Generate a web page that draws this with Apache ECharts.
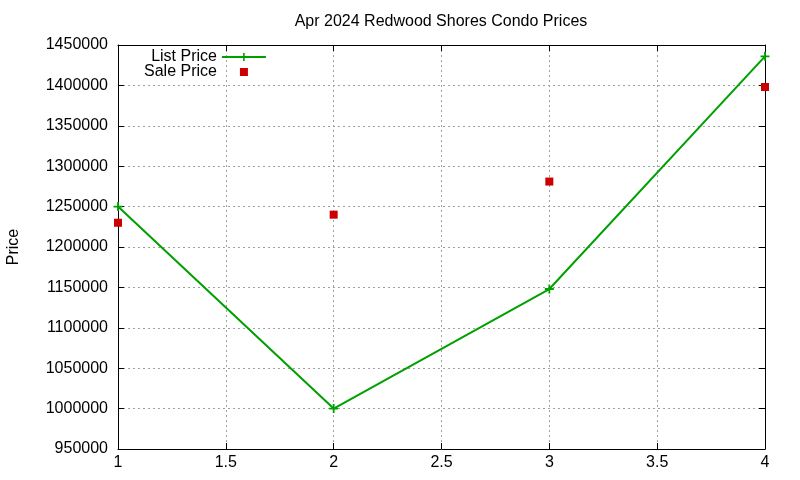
<!DOCTYPE html>
<html>
<head>
<meta charset="utf-8">
<script src="https://cdn.jsdelivr.net/npm/echarts@6/dist/echarts.min.js"></script>
<style>
    html, body { margin: 0; padding: 0; background: #fff; }
    #chart { width: 800px; height: 480px; }
</style>
</head>
<body>
<div id="chart"></div>
<script>
// data
const months = [1, 2, 3, 4];
const listPrice = [1250000, 1000000, 1148000, 1436000];
const salePrice = [1230000, 1240000, 1281000, 1398000];

const FONT = '"Liberation Sans", Arial, sans-serif';
const plusIcon = 'path://M4,0h2v4h4v2h-4v4h-2v-4h-4v-2h4z';

const chart = echarts.init(document.getElementById('chart'));

const tickStyle = { show: true, inside: true, length: 6, lineStyle: { color: '#000' } };
const gridLine = { show: true, lineStyle: { color: '#a0a0a0', type: [2, 3], width: 1 } };

const option = {
    animation: false,
    backgroundColor: '#fff',
    title: {
        text: 'Apr 2024 Redwood Shores Condo Prices',
        left: 436,
        textAlign: 'center',
        top: 9,
        textStyle: { fontFamily: FONT, fontSize: 16, fontWeight: 'normal', color: '#000' }
    },
    legend: {
        orient: 'vertical',
        align: 'right',
        left: 144,
        top: 49,
        padding: 0,
        itemGap: -1,
        itemWidth: 44,
        itemHeight: 10,
        selectedMode: false,
        textStyle: { fontFamily: FONT, fontSize: 16, color: '#000' },
        data: ['List Price', 'Sale Price']
    },
    grid: { left: 118, right: 35, top: 45, bottom: 31, outerBoundsMode: 'none' },
    xAxis: [{
        type: 'value',
        min: 1,
        max: 4,
        interval: 0.5,
        axisLine: { show: true, lineStyle: { color: '#000' } },
        axisTick: tickStyle,
        axisLabel: { fontFamily: FONT, fontSize: 16, color: '#000', margin: 6 },
        splitLine: gridLine
    }, {
        type: 'value',
        position: 'top',
        min: 1,
        max: 4,
        interval: 0.5,
        axisLine: { show: true, lineStyle: { color: '#000' } },
        axisTick: tickStyle,
        axisLabel: { show: false },
        splitLine: { show: false }
    }],
    yAxis: [{
        type: 'value',
        min: 950000,
        max: 1450000,
        interval: 50000,
        name: 'Price',
        nameLocation: 'middle',
        nameGap: 96,
        nameTextStyle: { fontFamily: FONT, fontSize: 16, color: '#000' },
        axisLine: { show: true, lineStyle: { color: '#000' } },
        axisTick: tickStyle,
        axisLabel: {
            fontFamily: FONT, fontSize: 16, color: '#000', margin: 10,
            formatter: v => String(v)
        },
        splitLine: gridLine
    }, {
        type: 'value',
        position: 'right',
        min: 950000,
        max: 1450000,
        interval: 50000,
        axisLine: { show: true, lineStyle: { color: '#000' } },
        axisTick: tickStyle,
        axisLabel: { show: false },
        splitLine: { show: false }
    }],
    series: [{
        name: 'List Price',
        type: 'line',
        data: months.map((m, i) => [m, listPrice[i]]),
        symbol: plusIcon,
        symbolSize: 9,
        showAllSymbol: true,
        itemStyle: { color: '#00a000' },
        lineStyle: { color: '#00a000', width: 2 },
        z: 3
    }, {
        name: 'Sale Price',
        type: 'line',
        data: months.map((m, i) => [m, salePrice[i]]),
        symbol: 'rect',
        symbolSize: 8,
        itemStyle: { color: '#cc0000' },
        lineStyle: { color: 'rgba(0,0,0,0)', width: 0 },
        z: 2
    }]
};

chart.setOption(option);
</script>
</body>
</html>
